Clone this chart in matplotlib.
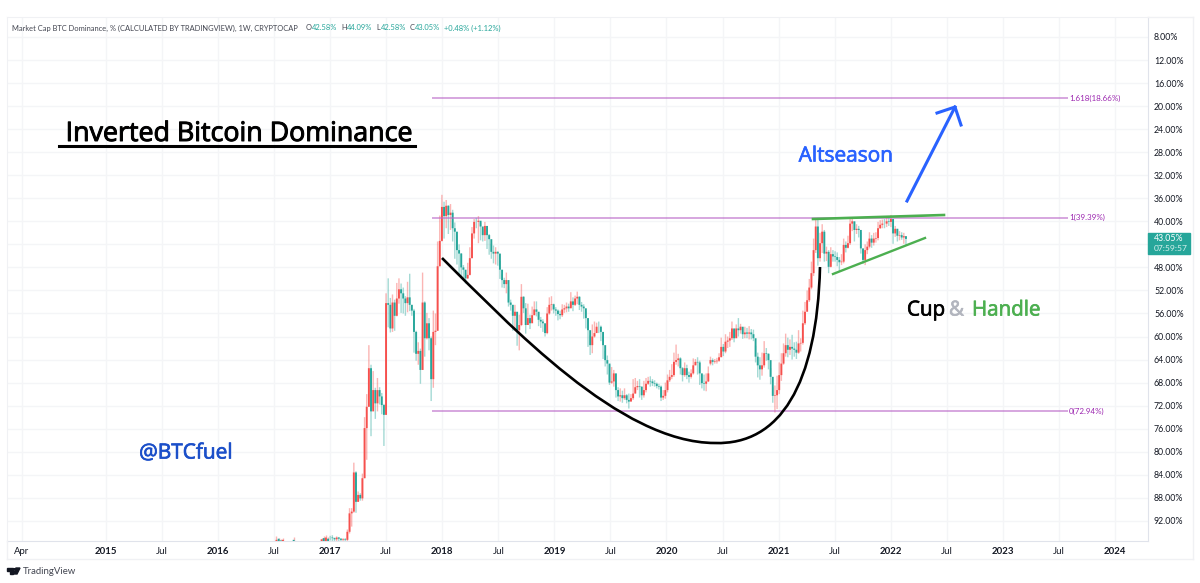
import numpy as np
import matplotlib
matplotlib.use('Agg')
import matplotlib.pyplot as plt
import matplotlib.patheffects as pe
from matplotlib.lines import Line2D
from matplotlib.patches import PathPatch, Rectangle, Polygon, Circle
from matplotlib.path import Path

# weekly candles from the first week of 2017, percent
closes = [
    94.9,95.0,95.2,94.9,95.1,95.3,95.2,95.3,93.9,90.7,
    90.4,83.6,88.7,87.5,88.1,84.6,75.9,72.2,65.5,73.0,
    69.3,71.6,69.3,70.4,71.9,73.6,54.2,54.5,58.6,54.1,
    56.4,53.4,51.8,52.5,53.4,54.2,53.2,54.5,55.5,59.2,
    63.0,62.5,65.8,54.1,60.3,57.7,60.3,67.4,59.2,59.0,
    47.8,43.4,37.5,39.1,37.3,38.9,38.5,41.2,41.8,45.0,
    45.6,48.0,48.4,49.9,49.3,46.4,42.1,40.1,40.1,39.9,
    40.9,42.4,40.8,42.4,43.1,45.3,45.6,45.3,45.6,48.4,
    50.2,50.9,50.2,54.1,54.5,56.4,55.7,58.9,58.0,53.1,
    55.1,58.0,56.8,57.7,56.3,55.3,55.7,57.1,57.4,57.7,
    59.4,56.0,54.5,54.4,55.3,55.5,56.1,56.3,55.3,55.1,
    54.8,55.1,53.9,54.5,53.4,53.1,54.5,54.8,55.1,56.8,
    58.9,61.5,60.0,59.4,58.3,58.3,59.2,61.5,64.1,64.7,
    68.0,67.8,66.4,69.3,70.4,70.2,70.7,70.2,71.0,71.3,
    70.7,69.9,68.8,68.6,68.7,70.2,69.3,68.2,67.7,67.8,
    68.1,68.2,68.6,68.7,70.6,70.3,69.3,67.6,67.0,66.7,
    64.4,64.1,63.8,65.5,66.7,65.5,66.7,67.0,66.4,65.0,
    64.4,64.5,66.4,68.1,68.2,67.8,66.4,64.1,64.4,64.3,
    64.2,63.6,61.8,62.6,60.9,60.7,60.3,58.6,60.3,58.6,
    58.9,58.3,59.6,59.3,59.5,59.3,59.6,60.3,63.5,65.0,
    65.7,65.0,62.9,63.0,64.1,67.0,70.3,70.2,69.3,66.7,
    64.7,62.9,61.5,62.3,61.8,62.1,62.3,62.8,61.2,61.1,
    57.7,55.7,53.7,51.5,49.0,45.0,40.9,46.4,43.8,41.8,
    45.6,45.3,47.9,45.7,46.1,46.2,46.7,47.1,47.0,44.1,
    44.6,43.8,40.4,40.0,41.5,41.3,41.5,44.7,46.7,45.0,
    44.4,43.0,43.7,43.0,42.9,41.2,40.6,40.4,40.4,40.0,
    40.1,39.6,42.1,41.3,42.5,42.4,42.8,42.58,43.05]

# upper end of each wick on screen (scale is inverted, so smallest percent)
wick_tops = [
    94.6,94.5,94.9,94.7,94.8,95.0,95.0,95.0,93.5,89.8,
    89.8,81.9,83.4,86.9,87.2,83.8,74.0,70.0,61.5,64.9,
    66.0,68.9,67.2,68.8,69.8,71.7,52.5,49.9,53.3,52.7,
    53.6,50.7,49.9,50.8,51.5,53.0,50.5,49.1,54.5,55.2,
    59.0,61.0,62.1,48.9,53.9,55.9,56.8,60.0,55.5,56.0,
    43.5,39.0,35.4,36.6,36.3,37.2,37.0,38.0,40.2,42.4,
    44.0,45.5,47.6,49.0,47.2,44.5,41.0,39.6,39.4,39.1,
    40.2,41.3,40.1,41.3,42.2,43.9,44.2,44.5,45.2,46.9,
    49.2,49.8,48.9,51.3,53.6,54.5,54.5,57.6,56.2,50.9,
    53.0,54.2,54.3,56.2,54.8,53.9,53.9,55.8,56.6,57.0,
    58.0,54.9,53.2,53.0,54.3,54.9,55.3,55.5,54.4,54.5,
    54.1,54.3,52.3,53.2,52.9,52.2,53.0,54.0,54.4,55.6,
    57.0,59.8,57.9,57.4,57.6,57.4,58.1,60.0,62.5,63.3,
    64.9,65.3,65.8,67.7,68.8,69.0,69.4,69.0,70.0,69.9,
    70.0,67.4,67.2,67.7,67.4,68.7,67.7,67.2,67.0,66.9,
    67.4,67.6,68.0,68.2,68.5,69.3,68.0,66.6,65.8,64.8,
    62.8,61.4,63.0,63.6,65.3,64.5,64.9,66.1,65.7,63.8,
    63.9,63.6,64.2,66.7,66.6,66.4,65.2,63.5,63.8,63.9,
    63.7,62.9,60.2,61.3,59.6,60.0,59.2,57.4,58.8,57.9,
    56.8,57.8,58.4,58.3,58.5,58.2,58.7,58.8,61.6,62.8,
    63.6,62.8,60.8,62.0,62.9,65.5,68.8,68.5,66.8,64.5,
    62.9,61.2,59.5,60.2,60.5,59.7,61.0,60.9,58.9,60.3,
    55.5,54.0,52.0,50.0,47.0,43.0,39.7,39.4,42.0,40.5,
    41.5,44.4,45.0,44.5,45.0,45.2,45.4,46.2,45.7,43.0,
    43.5,42.5,39.4,39.5,40.1,40.5,40.8,41.9,44.8,44.0,
    43.5,41.9,42.4,42.0,41.9,40.1,39.8,39.7,39.6,39.3,
    39.4,38.9,39.8,40.8,41.3,41.7,41.9,42.0,42.58]

# lower end of each wick on screen
wick_bottoms = [
    95.4,95.5,95.6,95.5,95.5,95.6,95.6,95.6,95.5,94.2,
    93.0,90.6,90.6,88.7,88.5,88.5,84.6,81.4,72.2,77.3,
    72.5,74.3,73.0,71.8,73.5,79.0,73.6,58.4,59.3,59.2,
    59.0,56.5,54.3,55.9,56.0,56.4,55.8,55.6,56.4,62.8,
    64.2,64.9,68.2,65.8,63.5,60.5,62.4,71.2,68.9,61.5,
    59.0,47.8,43.5,43.0,41.2,42.2,41.5,43.5,46.5,47.5,
    49.4,49.7,49.9,50.8,50.0,49.4,46.4,43.0,41.2,43.8,
    43.3,43.5,43.4,44.8,45.8,46.5,47.3,47.5,47.7,50.0,
    51.5,51.6,52.5,54.8,55.5,59.0,58.9,61.6,62.4,58.2,
    55.9,59.5,58.0,58.7,57.5,56.3,56.5,58.2,58.5,59.2,
    60.0,59.6,56.2,55.5,56.0,56.4,57.2,57.0,56.6,55.9,
    55.8,55.7,54.9,55.6,54.7,54.4,55.4,55.7,56.9,58.6,
    61.8,63.2,62.9,60.2,59.3,59.4,60.8,63.9,65.2,66.6,
    68.4,68.2,68.7,70.6,71.2,71.3,71.5,71.0,71.6,72.5,
    71.2,71.0,69.9,69.3,70.6,71.0,70.6,69.7,68.4,68.7,
    68.6,68.7,69.0,69.2,71.2,71.0,70.8,69.7,67.9,67.4,
    67.0,64.9,65.2,66.6,67.8,67.0,67.4,68.0,67.3,66.6,
    65.0,66.6,68.4,69.0,69.4,69.5,67.9,65.0,65.0,64.7,
    64.7,64.4,63.2,63.4,62.9,62.0,61.8,60.6,61.0,60.0,
    60.0,59.5,60.4,60.3,60.3,60.5,60.5,60.8,64.5,67.1,
    67.5,66.8,65.4,64.2,65.7,68.3,71.5,73.2,72.6,70.0,
    67.7,64.9,63.5,63.6,63.2,64.0,63.5,63.9,63.0,62.6,
    61.4,58.0,55.0,54.0,51.8,49.5,45.5,47.7,47.0,45.5,
    47.0,46.9,49.0,48.0,47.0,47.0,47.8,48.6,47.6,47.3,
    45.4,44.7,44.1,41.7,43.5,42.2,42.8,45.6,47.4,47.6,
    45.7,44.7,44.6,44.2,43.7,43.3,41.3,41.2,41.2,41.0,
    40.8,41.0,43.9,42.7,43.5,43.3,43.2,43.9,44.09]

# the few 2016 weeks that just reach into the bottom of the chart
early_weeks = [-25, -24, -23, -22, -17, -4, -3, -2, -1]
early_closes = [95.3, 95.1, 95.4, 95.3, 95.3, 95.2, 95.0, 94.9, 95.1]
early_tops = [94.6, 94.9, 95.1, 95.0, 94.8, 94.9, 94.6, 94.5, 94.8]

fib_levels = [18.66, 39.39, 72.94]
fib_labels = ['1.618(18.66%)', '1(39.39%)', '0(72.94%)']

y_ticks = list(range(8, 96, 4))
x_tick_years = [2014.25, 2015, 2015.5, 2016, 2016.5, 2017, 2017.5, 2018, 2018.5, 2019,
                2019.5, 2020, 2020.5, 2021, 2021.5, 2022, 2022.5, 2023, 2023.5, 2024]
x_tick_labels = ['Apr', '2015', 'Jul', '2016', 'Jul', '2017', 'Jul', '2018', 'Jul', '2019',
                 'Jul', '2020', 'Jul', '2021', 'Jul', '2022', 'Jul', '2023', 'Jul', '2024']

RED = '#f6504d'
TEAL = '#26a69a'
PURPLE = '#ba68c8'
BLUE = '#2962ff'
GREEN = '#4caf50'
FONT = 'Open Sans'
SMALL_FONT = 'Lato'
PX_PER_YEAR = 112.1


def px_x(px):
    return 2015 + (px - 106) / PX_PER_YEAR


def px_y(py):
    return 8 + (py - 37) / 5.76


fig = plt.figure(figsize=(12, 5.83), dpi=100)
plt.rcParams['font.family'] = FONT
ax = fig.add_axes([7 / 1200, 42 / 583, 1141 / 1200, 524 / 583])
ax.set_xlim(px_x(7), px_x(1148))
ax.set_ylim(px_y(541), px_y(17))

# grid and axes
ax.set_axisbelow(True)
ax.grid(True, color='#f4f5f7', linewidth=1)
ax.set_yticks(y_ticks)
ax.set_yticklabels(['' if v == 44 else f'{v:.2f}%' for v in y_ticks], fontsize=6.3, color='#131722',
                   fontfamily=SMALL_FONT)
ax.yaxis.tick_right()
ax.set_xticks(x_tick_years)
ax.set_xticklabels(x_tick_labels, fontsize=6.9, color='#131722', fontfamily=SMALL_FONT)
for label in ax.get_xticklabels():
    if label.get_text().isdigit():
        label.set_fontweight('bold')
ax.tick_params(axis='both', length=0)
ax.tick_params(axis='y', pad=4.3)
ax.tick_params(axis='x', pad=4.5)
for side in ['left', 'top']:
    ax.spines[side].set_color('#f0f1f4')
ax.spines['right'].set_color('#e0e3eb')
ax.spines['bottom'].set_color('#e0e3eb')

# candles
weeks = np.arange(len(closes))
x = 2017 + weeks * 7 / 365.25
closes_arr = np.array(closes)
opens = np.r_[closes_arr[0], closes_arr[:-1]]
opens[177] = 64.7  # missing weeks in the source leave a gap here
colors = [TEAL if c >= o else RED for o, c in zip(opens, closes_arr)]
wicks = ax.vlines(x, wick_tops, wick_bottoms, colors=colors, linewidth=1.0, alpha=0.42, zorder=2)
wicks.set_snap(False)
ax.bar(x, closes_arr - opens, bottom=opens, width=1.9 / PX_PER_YEAR, color=colors, linewidth=0, zorder=3, snap=False)

early_x = 2017 + np.array(early_weeks) * 7 / 365.25
ax.vlines(early_x, early_tops, 96, colors=RED, linewidth=1.0, alpha=0.42, zorder=2)
ax.bar(early_x, 96 - np.array(early_closes), bottom=early_closes, width=1.9 / PX_PER_YEAR,
       color=[RED, TEAL, TEAL, RED, TEAL, RED, TEAL, RED, TEAL], linewidth=0, zorder=3, snap=False)

# fib levels
for level, text in zip(fib_levels, fib_labels):
    ax.hlines(level, px_x(432), px_x(1068), color=PURPLE, linewidth=1.1, alpha=0.75, zorder=4)
    ax.text(px_x(1069), level, text, fontsize=5.75, color='#9c27b0', va='center', ha='left', fontfamily=SMALL_FONT)

# cup, drawn as two beziers
cup_px = [(442, 258), (510, 325), (620, 443), (715, 443), (780, 445), (817, 385), (820, 267)]
cup_verts = [(px_x(a), px_y(b)) for a, b in cup_px]
cup_codes = [Path.MOVETO] + [Path.CURVE4] * 6
ax.add_patch(PathPatch(Path(cup_verts, cup_codes), fill=False, edgecolor='black', linewidth=1.9, zorder=6))

# handle trendlines
ax.plot([px_x(813), px_x(944)], [px_y(219), px_y(215)], color=GREEN, linewidth=1.9, zorder=6)
ax.plot([px_x(833), px_x(925)], [px_y(274), px_y(238)], color=GREEN, linewidth=1.7, zorder=6)

# altseason arrow
ax.plot([px_x(907), px_x(955)], [px_y(201), px_y(107)], color=BLUE, linewidth=2.2, zorder=6)
ax.plot([px_x(937), px_x(955), px_x(961)], [px_y(113), px_y(107), px_y(125)], color=BLUE, linewidth=2.2, zorder=6)

# underline of the title
ax.plot([px_x(59), px_x(415)], [px_y(146), px_y(146)], color='black', linewidth=2.2, zorder=6)


def fig_text(px, py, s, **kw):
    kw.setdefault('va', 'center')
    return fig.text(px / 1200, 1 - py / 583, s, **kw)


def heavy(t, width=0.5):
    t.set_path_effects([pe.withStroke(linewidth=width, foreground=t.get_color())])


heavy(fig_text(238.5, 134, 'Inverted Bitcoin Dominance', fontsize=19.3, ha='center', color='black'), 0.7)
heavy(fig_text(846, 156, 'Altseason', fontsize=15, ha='center', color=BLUE))
heavy(fig_text(186, 453, '@BTCfuel', fontsize=15, ha='center', color='#1b4fc9'))
heavy(fig_text(907, 310, 'Cup', fontsize=14.8, color='black'))
heavy(fig_text(949, 310, '&', fontsize=14.8, color='#b2b5be'))
heavy(fig_text(972, 310, 'Handle', fontsize=14.8, color=GREEN))

# legend row
fig_text(12, 28, 'Market Cap BTC Dominance, % (CALCULATED BY TRADINGVIEW), 1W, CRYPTOCAP',
         fontsize=5.45, color='#434651', fontfamily=SMALL_FONT)
for px, s, col in [(306, 'O', '#434651'), (312, '42.58%', TEAL), (341, 'H', '#434651'), (347, '44.09%', TEAL),
                   (376, 'L', '#434651'), (381, '42.58%', TEAL), (410, 'C', '#434651'), (415, '43.05%', TEAL),
                   (444, '+0.48% (+1.12%)', TEAL)]:
    fig_text(px, 28, s, fontsize=5.45, color=col, fontfamily=SMALL_FONT)

# last price tag
fig.add_artist(Rectangle((1148 / 1200, 1 - 254 / 583), 42 / 1200, 21 / 583, color=TEAL, transform=fig.transFigure))
fig_text(1154, 238.5, '43.05%', fontsize=6.3, color='white', fontfamily=SMALL_FONT)
fig_text(1154, 248.5, '07:59:57', fontsize=6.1, color='#d6f0ec', fontfamily=SMALL_FONT)

# frame around the time and price scales
fig.add_artist(Line2D([7 / 1200, 1193 / 1200], [1 - 559 / 583] * 2, color='#f0f1f4', linewidth=1))
fig.add_artist(Line2D([1193 / 1200] * 2, [1 - 17 / 583, 1 - 559 / 583], color='#f0f1f4', linewidth=1))
fig.add_artist(Line2D([1148 / 1200, 1193 / 1200], [1 - 17 / 583] * 2, color='#f0f1f4', linewidth=1))
fig.add_artist(Line2D([7 / 1200] * 2, [1 - 541 / 583, 1 - 559 / 583], color='#f0f1f4', linewidth=1))

# TradingView mark
def logo_pt(a, b):
    return (a / 1200, 1 - b / 583)


fig.add_artist(Polygon([logo_pt(7, 568), logo_pt(13, 568), logo_pt(13, 574), logo_pt(10, 574),
                        logo_pt(10, 570.5), logo_pt(7, 570.5)], color='#131722', transform=fig.transFigure))
fig.add_artist(Polygon([logo_pt(16, 568), logo_pt(20, 568), logo_pt(17, 574), logo_pt(13.5, 574)],
                       color='#131722', transform=fig.transFigure))
fig.add_artist(Circle(logo_pt(14.4, 569.2), 1.1 / 1200, color='#131722', transform=fig.transFigure))
fig_text(23, 571.5, 'TradingView', fontsize=6.9, color='#434651', fontfamily=SMALL_FONT)

fig.savefig('out.png', dpi=100)
